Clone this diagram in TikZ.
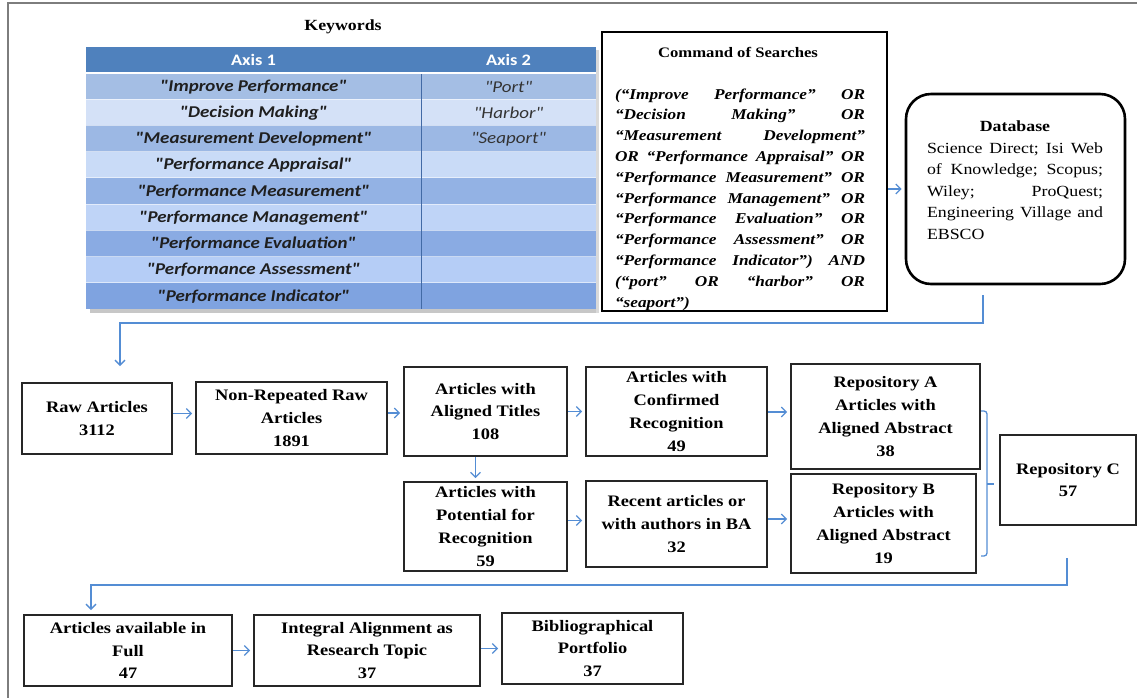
\documentclass[tikz,border=0pt]{standalone}
\usepackage{fontspec}
\setmainfont{Liberation Serif}[FakeStretch=1.15]
\newfontfamily\calfont{Carlito}[FakeStretch=1.15]
\usetikzlibrary{arrows.meta}
\definecolor{connblue}{RGB}{84,141,212}
\definecolor{hdrblue}{RGB}{79,129,189}
\definecolor{divblue}{RGB}{66,106,165}
\definecolor{framegray}{RGB}{125,125,125}
\definecolor{rowA}{RGB}{164,190,228}
\definecolor{rowB}{RGB}{212,225,247}
\definecolor{rowC}{RGB}{156,184,228}
\definecolor{rowD}{RGB}{201,219,247}
\definecolor{rowE}{RGB}{147,178,228}
\definecolor{rowF}{RGB}{191,212,247}
\definecolor{rowG}{RGB}{138,171,227}
\definecolor{rowH}{RGB}{181,205,246}
\definecolor{rowI}{RGB}{127,163,224}
\newcommand\bxfont{\fontsize{16}{22.7}\selectfont\bfseries}
\tikzset{
  flowbox/.style={draw=black!85, line width=1.6pt, fill=white, align=center, inner sep=0pt, font=\bxfont},
  bigbox/.style={draw=black, line width=2.6pt, fill=white, inner sep=0pt},
  conn/.style={draw=connblue, line width=1.3pt},
  arr/.style={conn, -{Straight Barb[length=5pt,width=10pt]}, shorten >=3pt},
  kwcell/.style={font=\calfont\fontsize{16.5}{18}\selectfont\bfseries\itshape, text=black!88, inner sep=0pt},
  axcell/.style={font=\calfont\fontsize{16.5}{18}\selectfont\itshape, text=black!80, inner sep=0pt},
  hdrcell/.style={font=\calfont\fontsize{16}{18}\selectfont\bfseries, text=white, inner sep=0pt},
  titletext/.style={inner sep=0pt}
}
\begin{document}
\begin{tikzpicture}[x=1pt,y=-1pt]
\useasboundingbox (0,0) rectangle (1137,697);
% outer frame
\draw[framegray, line width=2.5pt] (8,720) -- (8,3) -- (1160,3);

% Keywords table
\node[titletext, font=\fontsize{15.5}{18}\selectfont\bfseries] (kwtitle) at (343,27) {Keywords};
\fill[black!22] (90,309) rectangle (599,313);
\fill[black!15] (596,50) rectangle (599,313);
\fill[hdrblue] (86,47) rectangle (596,73);
\foreach \i/\c in {1/rowA,2/rowB,3/rowC,4/rowD,5/rowE,6/rowF,7/rowG,8/rowH,9/rowI}{
  \fill[\c] (86,{73+(\i-1)*26.22}) rectangle (596,{73+\i*26.22});
}
\foreach \i in {1,...,8}{
  \draw[white, opacity=0.55, line width=0.8pt] (86,{73+\i*26.22}) -- (596,{73+\i*26.22});
}
\draw[white, line width=1.6pt] (86,73) -- (596,73);
\draw[divblue, line width=1pt] (421,74) -- (421,309);
\node[hdrcell] (ax1) at (253.5,60) {Axis 1};
\node[hdrcell] (ax2) at (508.5,60) {Axis 2};
\node[kwcell] (k1) at (253.5,86.6) {"Improve Performance"};
\node[kwcell] (k2) at (253.5,112.8) {"Decision Making"};
\node[kwcell] (k3) at (253.5,139.1) {"Measurement Development"};
\node[kwcell] (k4) at (253.5,165.3) {"Performance Appraisal"};
\node[kwcell] (k5) at (253.5,191.5) {"Performance Measurement"};
\node[kwcell] (k6) at (253.5,217.7) {"Performance Management"};
\node[kwcell] (k7) at (253.5,243.9) {"Performance Evaluation"};
\node[kwcell] (k8) at (253.5,270.1) {"Performance Assessment"};
\node[kwcell] (k9) at (253.5,296.4) {"Performance Indicator"};
\node[axcell] (p1) at (508.5,86.6) {"Port"};
\node[axcell] (p2) at (508.5,112.8) {"Harbor"};
\node[axcell] (p3) at (508.5,139.1) {"Seaport"};

% Command of Searches
\node[bigbox, minimum width=285pt, minimum height=279pt] (cmd) at (744.5,171.5) {};
\node[titletext, font=\fontsize{14.5}{18}\selectfont\bfseries] (cmdtitle) at (738,52) {Command of Searches};
\node[titletext] (cmdbody) at (740,199.5) {\parbox{250pt}{\fontsize{15}{20.8}\selectfont\bfseries\itshape
\hbox to 250pt{(“Improve\hfill Performance”\hfill OR}
\hbox to 250pt{“Decision\hfill Making”\hfill OR}
\hbox to 250pt{“Measurement\hfill Development”}
\hbox to 250pt{OR\hfill “Performance\hfill Appraisal”\hfill OR}
\hbox to 250pt{“Performance\hfill Measurement”\hfill OR}
\hbox to 250pt{“Performance\hfill Management”\hfill OR}
\hbox to 250pt{“Performance\hfill Evaluation”\hfill OR}
\hbox to 250pt{“Performance\hfill Assessment”\hfill OR}
\hbox to 250pt{“Performance\hfill Indicator”)\hfill AND}
\hbox to 250pt{(“port”\hfill OR\hfill “harbor”\hfill OR}
\hbox to 250pt{“seaport”)\hfill}}};

% Database
\node[bigbox, rounded corners=25pt, minimum width=219pt, minimum height=190pt] (db) at (1015.5,189) {};
\node[titletext] (dbtext) at (1015,180) {\parbox{176pt}{\fontsize{15.5}{21.5}\selectfont
\hbox to 176pt{\hfill\textbf{Database}\hfill}
\hbox to 176pt{Science\hfill Direct;\hfill Isi\hfill Web}
\hbox to 176pt{of\hfill Knowledge;\hfill Scopus;}
\hbox to 176pt{Wiley;\hfill ProQuest;}
\hbox to 176pt{Engineering\hfill Village\hfill and}
\hbox to 176pt{EBSCO\hfill}}};
\draw[arr] (cmd.east |- db.west) -- (db.west);

% flow boxes
\node[flowbox, minimum width=150pt, minimum height=71pt] (raw) at (97,418.5) {Raw Articles\\3112};
\node[flowbox, minimum width=191pt, minimum height=72pt] (nonrep) at (291.5,418) {Non-Repeated Raw\\Articles\\1891};
\node[flowbox, minimum width=163pt, minimum height=89pt] (aligned) at (485.5,411.5) {Articles with\\Aligned Titles\\108};
\node[flowbox, minimum width=163pt, minimum height=89pt] (potential) at (485.5,526.5) {Articles with\\Potential for\\Recognition\\59};
\node[flowbox, minimum width=181pt, minimum height=89pt] (confirmed) at (676.5,411.5) {Articles with\\Confirmed\\Recognition\\49};
\node[flowbox, minimum width=189pt, minimum height=105pt] (repoA) at (885.5,416.5) {Repository A\\Articles with\\Aligned Abstract\\38};
\node[flowbox, minimum width=181pt, minimum height=86pt] (recent) at (676.5,524) {Recent articles or\\with authors in BA\\32};
\node[flowbox, minimum width=185pt, minimum height=99pt] (repoB) at (883.5,523.5) {Repository B\\Articles with\\Aligned Abstract\\19};
\node[flowbox, minimum width=136pt, minimum height=90pt] (repoC) at (1068,480) {Repository C\\57};
\node[flowbox, minimum width=208pt, minimum height=71pt] (avail) at (128,650.5) {Articles available in\\Full\\47};
\node[flowbox, minimum width=226pt, minimum height=71pt] (integral) at (367,650.5) {Integral Alignment as\\Research Topic\\37};
\node[flowbox, minimum width=181pt, minimum height=71pt] (biblio) at (592.5,648.5) {Bibliographical\\Portfolio\\37};

% connectors
\coordinate (dbout) at (983,295);
\coordinate (rawbend) at (120,323);
\coordinate (rawin) at (120,366);
\draw[arr, shorten >=0pt] (dbout) -- (dbout |- rawbend) -- (rawbend) -- (rawin);

\draw[arr] ([yshift=5pt]raw.east) -- ([yshift=5pt]raw.east -| nonrep.west);
\draw[arr] ([yshift=5pt]nonrep.east) -- ([yshift=5pt]nonrep.east -| aligned.west);
\draw[arr] (aligned.east) -- (aligned.east -| confirmed.west);
\draw[arr] ([yshift=-0.5pt]confirmed.east) -- ([yshift=-0.5pt]confirmed.east -| repoA.west);
\draw[arr] ([xshift=-10pt]aligned.south) -- ([xshift=-10pt]aligned.south |- potential.north);
\draw[arr] ([yshift=6pt]potential.east) -- ([yshift=6pt]potential.east -| recent.west);
\draw[arr] ([yshift=5pt]recent.east) -- ([yshift=5pt]recent.east -| repoB.west);

% brace to repository C
\draw[conn, rounded corners=3pt] (981,411) -- (987,411) -- (987,556) -- (981,556);
\draw[conn] (987,484) -- (994,484);

\coordinate (cout) at (1067,558);
\coordinate (cbend) at (91,585);
\coordinate (availin) at (91,610);
\draw[arr, shorten >=0pt] (cout) -- (cout |- cbend) -- (cbend) -- (availin);

\draw[arr] (avail.east) -- (avail.east -| integral.west);
\draw[arr] ([yshift=2pt]integral.east) -- ([yshift=2pt]integral.east -| biblio.west);
\end{tikzpicture}
\end{document}
